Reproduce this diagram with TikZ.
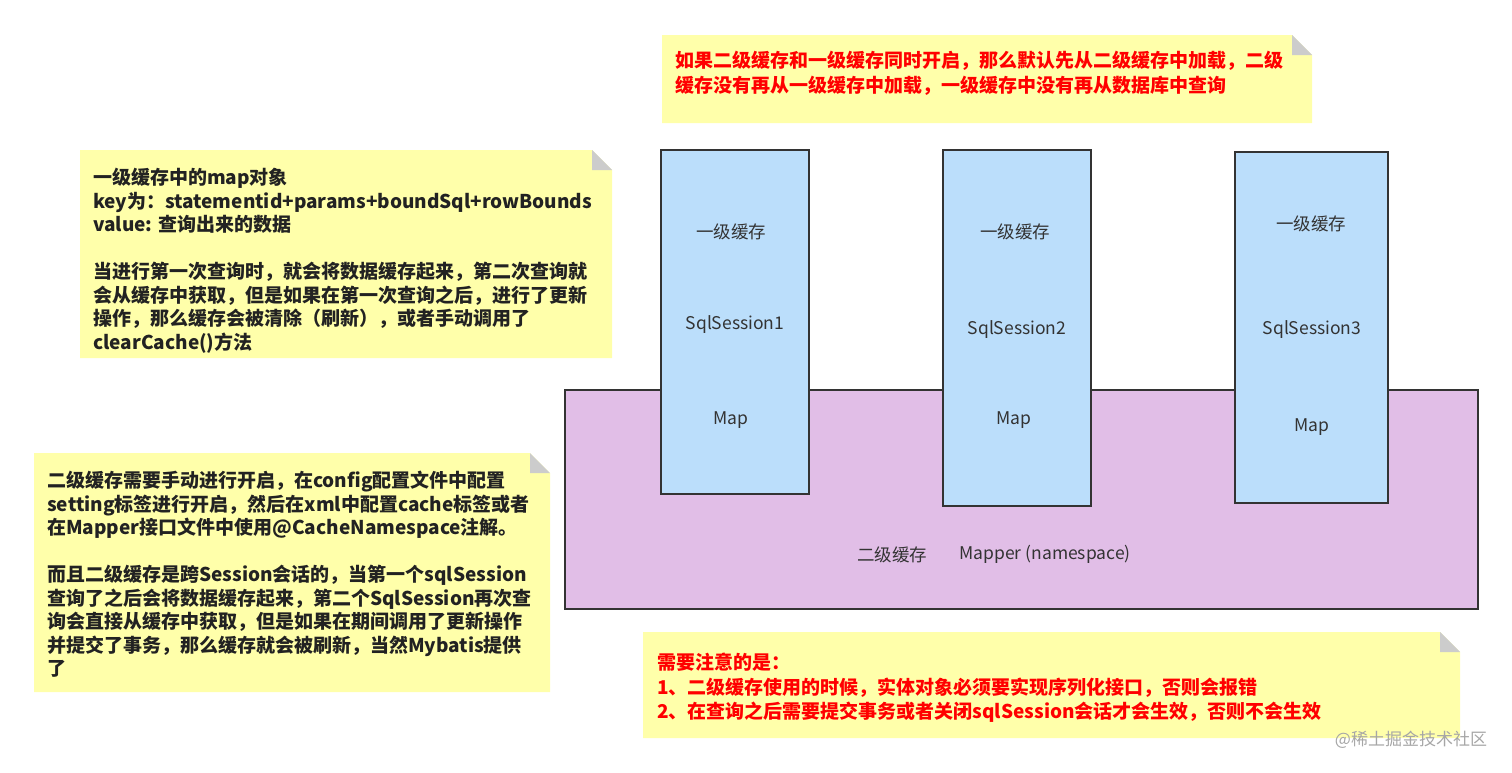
\documentclass[tikz,border=0pt]{standalone}
\usepackage{fontspec}
\setmainfont{Noto Sans CJK SC}
\usetikzlibrary{positioning}
\definecolor{notebg}{HTML}{FFFFAA}
\definecolor{foldgray}{HTML}{CCCCCC}
\definecolor{sessionblue}{HTML}{BBDEFB}
\definecolor{mapperpurple}{HTML}{E1BEE7}
\definecolor{edgegray}{HTML}{333333}
\definecolor{notetext}{HTML}{222222}

\begin{document}
\begin{tikzpicture}[x=1pt, y=-1pt,
    cachebox/.style={draw=edgegray, line width=2pt, inner sep=0pt},
    boxlabel/.style={font=\fontsize{17.5}{20}\selectfont, text=edgegray},
    notetxt/.style={anchor=north west, align=left, inner sep=0pt,
        font=\fontsize{19}{23.5}\selectfont\bfseries, text=notetext},
    rednote/.style={notetxt, font=\fontsize{19}{24.5}\selectfont\bfseries, text=red}]
    \useasboundingbox (0,0) rectangle (1512,772);

    % Sticky notes (x1/y1/x2/y2)
    \foreach \xa/\ya/\xb/\yb in {662/35/1312/123, 80/150/612/358, 34/453/550/692, 643/632/1460/738} {
        \fill[notebg] (\xa,\ya) -- (\xb-20,\ya) -- (\xb,\ya+20) -- (\xb,\yb) -- (\xa,\yb) -- cycle;
        \fill[foldgray] (\xb-20,\ya) -- (\xb-20,\ya+20) -- (\xb,\ya+20) -- cycle;
    }

    % Second level cache
    \node[cachebox, fill=mapperpurple, minimum width=913pt, minimum height=219pt] (mapper) at (1021.5,499.5) {};
    \node[boxlabel] (l2) at (892,555) {二级缓存};
    \node[boxlabel] (ns) at (1045,554) {Mapper (namespace)};

    % Sessions
    \node[cachebox, fill=sessionblue, minimum width=148pt, minimum height=344pt] (s1) at (735,322) {};
    \node[cachebox, fill=sessionblue, minimum width=148pt, minimum height=356pt] (s2) at (1017,328) {};
    \node[cachebox, fill=sessionblue, minimum width=153pt, minimum height=351pt] (s3) at (1311.5,327.5) {};

    \node[boxlabel] (c1) at (731,232) {一级缓存};
    \node[boxlabel] (n1) at (735,325) {SqlSession1};
    \node[boxlabel] (m1) at (731,420) {Map};
    \node[boxlabel] (c2) at (1015,232) {一级缓存};
    \node[boxlabel] (n2) at (1017,330) {SqlSession2};
    \node[boxlabel] (m2) at (1014,420) {Map};
    \node[boxlabel] (c3) at (1311,224) {一级缓存};
    \node[boxlabel] (n3) at (1312,330) {SqlSession3};
    \node[boxlabel] (m3) at (1312,427) {Map};

    % Notes
    \node[rednote] (order) at (675,51) {如果二级缓存和一级缓存同时开启，那么默认先从二级缓存中加载，二级\\
        缓存没有再从一级缓存中加载，一级缓存中没有再从数据库中查询};
    \node[notetxt] (first) at (93,168) {一级缓存中的map对象\\
        key为：statementid+params+boundSql+rowBounds\\
        value: 查询出来的数据\\[23.5pt]
        当进行第一次查询时，就会将数据缓存起来，第二次查询就\\
        会从缓存中获取，但是如果在第一次查询之后，进行了更新\\
        操作，那么缓存会被清除（刷新），或者手动调用了\\
        clearCache()方法};
    \node[notetxt] (second) at (47,471) {二级缓存需要手动进行开启，在config配置文件中配置\\
        setting标签进行开启，然后在xml中配置cache标签或者\\
        在Mapper接口文件中使用@CacheNamespace注解。\\[23.5pt]
        而且二级缓存是跨Session会话的，当第一个sqlSession\\
        查询了之后会将数据缓存起来，第二个SqlSession再次查\\
        询会直接从缓存中获取，但是如果在期间调用了更新操作\\
        并提交了事务，那么缓存就会被刷新，当然Mybatis提供\\
        了};
    \node[rednote] (attention) at (657,653) {需要注意的是：\\
        1、二级缓存使用的时候，实体对象必须要实现序列化接口，否则会报错\\
        2、在查询之后需要提交事务或者关闭sqlSession会话才会生效，否则不会生效};

    \node[font=\fontsize{17}{20}\selectfont, text=gray!70] (mark) at (1411,740) {@稀土掘金技术社区};
\end{tikzpicture}
\end{document}
